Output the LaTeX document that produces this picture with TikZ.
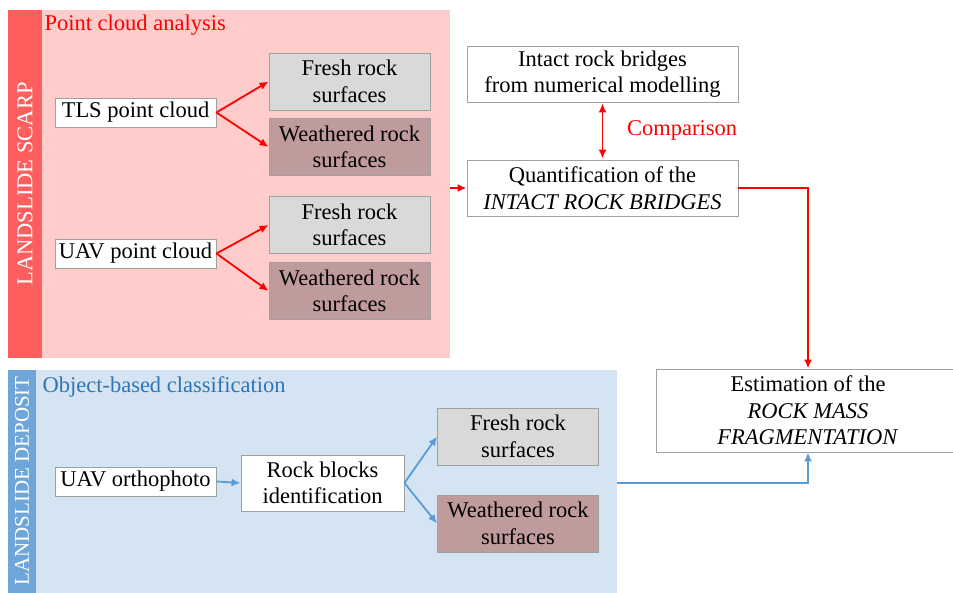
\documentclass[tikz,border=0pt]{standalone}
\usepackage{fontspec}
\setmainfont{Liberation Serif}
\usepackage{tikz}
\usetikzlibrary{positioning,arrows.meta,calc}
\definecolor{scarpfill}{HTML}{FFCCCC}
\definecolor{scarpstrip}{HTML}{FF5E5E}
\definecolor{depofill}{HTML}{D5E4F3}
\definecolor{depostrip}{HTML}{6FA6DA}
\definecolor{freshgray}{HTML}{D9D9D9}
\definecolor{weathbrown}{HTML}{C09B9B}
\definecolor{boxline}{HTML}{A0A0A0}
\definecolor{redline}{HTML}{FF0000}
\definecolor{blueline}{HTML}{5B9BD5}
\definecolor{bluetext}{HTML}{2E75B6}
\tikzset{
  txt/.style={font=\rmfamily\fontsize{22.5}{26.5}\selectfont},
  box/.style={txt,draw=boxline,line width=0.9pt,fill=white,align=center,inner sep=1pt},
  src/.style={box,minimum width=161pt,minimum height=29pt},
  fresh/.style={box,fill=freshgray,minimum width=161pt,minimum height=57pt},
  weath/.style={box,fill=weathbrown,minimum width=161pt,minimum height=57pt},
  wide/.style={box,minimum width=271pt,minimum height=56pt},
  panel/.style={draw=none,inner sep=0pt,anchor=north west},
  vlabel/.style={txt,text=white,rotate=90},
  redarrow/.style={-{Latex[length=9pt,width=8pt]},line width=1.8pt,redline},
  bluearrow/.style={-{Latex[length=9pt,width=8pt]},line width=1.8pt,blueline},
}
\begin{document}
\begin{tikzpicture}[x=1pt,y=-1pt]
  \useasboundingbox (0,0) rectangle (953,593);
  % ---- panels ----
  \node[panel,fill=scarpfill,minimum width=442pt,minimum height=348pt] (scarp) at (8,10) {};
  \node[panel,fill=scarpstrip,minimum width=34pt,minimum height=348pt] (scarpstrip) at (8,10) {};
  \node[vlabel] (scarplbl) at (25,184) {LANDSLIDE SCARP};
  \node[txt,text=redline,anchor=west] (pca) at (41,25) {Point cloud analysis};
  \node[panel,fill=depofill,minimum width=609pt,minimum height=230pt] (deposit) at (8,370) {};
  \node[panel,fill=depostrip,minimum width=28pt,minimum height=230pt] (depostrip) at (8,370) {};
  \node[vlabel,font=\rmfamily\fontsize{21}{24}\selectfont,inner sep=0pt] (depolbl) at (22,481) {LANDSLIDE DEPOSIT};
  \node[txt,text=bluetext,anchor=west] (obc) at (39,387) {Object-based classification};
  % ---- point cloud analysis ----
  \node[src] (tls) at (135.5,112.5) {TLS point cloud};
  \node[fresh] (fr1) at (349.5,81.5) {Fresh rock\\surfaces};
  \node[weath] (we1) at (349.5,147) {Weathered rock\\surfaces};
  \node[src] (uav) at (135.5,253.5) {UAV point cloud};
  \node[fresh] (fr2) at (349.5,225) {Fresh rock\\surfaces};
  \node[weath] (we2) at (349.5,291) {Weathered rock\\surfaces};
  % ---- object-based classification ----
  \node[src] (ortho) at (135.5,481.5) {UAV orthophoto};
  \node[box,minimum width=163pt,minimum height=56pt] (rbi) at (322.5,483) {Rock blocks\\identification};
  \node[fresh] (fr3) at (518,436.5) {Fresh rock\\surfaces};
  \node[weath] (we3) at (518,523.5) {Weathered rock\\surfaces};
  % ---- right column ----
  \node[wide] (irb) at (602.5,74) {Intact rock bridges\\from numerical modelling};
  \node[wide] (quant) at (602.5,188) {Quantification of the\\\textit{INTACT ROCK BRIDGES}};
  \node[txt,text=redline] (cmp) at (682,130) {Comparison};
  \node[box,minimum width=304pt,minimum height=83pt] (est) at (808,410.5) {Estimation of the\\\textit{ROCK MASS}\\\textit{FRAGMENTATION}};
  % ---- edges ----
  \draw[redarrow] (tls.east) -- (fr1.west);
  \draw[redarrow] (tls.east) -- (we1.west);
  \draw[redarrow] (uav.east) -- (fr2.west);
  \draw[redarrow] (uav.east) -- (we2.west);
  \draw[redarrow] (scarp.east |- quant.west) -- (quant.west);
  \draw[redarrow,{Latex[length=9pt,width=8pt]}-{Latex[length=9pt,width=8pt]},shorten <=1pt,shorten >=1pt] (irb.south) -- (quant.north);
  \draw[redarrow] (quant.east) -| (est.north);
  \draw[bluearrow] (ortho.east) -- (rbi.west);
  \draw[bluearrow] (rbi.east) -- (fr3.west);
  \draw[bluearrow] (rbi.east) -- (we3.west);
  \draw[bluearrow] (deposit.east |- rbi.east) -| (est.south);
\end{tikzpicture}
\end{document}
